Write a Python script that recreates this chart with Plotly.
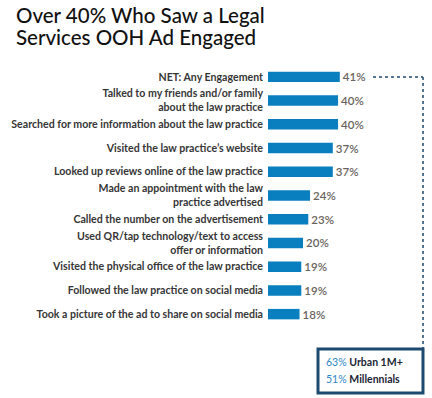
import plotly.graph_objects as go

categories = [
    "NET: Any Engagement",
    "Talked to my friends and/or family<br>about the law practice",
    "Searched for more information about the law practice",
    "Visited the law practice’s website",
    "Looked up reviews online of the law practice",
    "Made an appointment with the law<br>practice advertised",
    "Called the number on the advertisement",
    "Used QR/tap technology/text to access<br>offer or information",
    "Visited the physical office of the law practice",
    "Followed the law practice on social media",
    "Took a picture of the ad to share on social media",
]
values = [41, 40, 40, 37, 37, 24, 23, 20, 19, 19, 18]
value_labels = [f"{v}%" for v in values]
title_lines = ["Over 40% Who Saw a Legal", "Services OOH Ad Engaged"]
callout_pcts = ["63%", "51%"]
callout_texts = ["Urban 1M+", "Millennials"]

W, H = 432, 398
L, T = 268, 65
pw, ph = 155, 261
R, B = W - L - pw, H - T - ph

def px(x):  # screen x -> paper
    return (x - L) / pw

def py(y):  # screen y -> paper
    return (T + ph - y) / ph

BAR = "#0a7fbf"
NAVY = "#1d4a70"

fig = go.Figure(go.Bar(
    x=values, y=categories, orientation="h",
    marker=dict(color=BAR, line=dict(width=0)),
    text=value_labels, textposition="outside", cliponaxis=False,
    constraintext="none",
    textfont=dict(family="Lato", size=11.5, color="#6a6460", weight=600),
    width=0.44,
))

fig.update_layout(
    width=W, height=H,
    margin=dict(l=L, r=R, t=T, b=B, autoexpand=False),
    paper_bgcolor="white", plot_bgcolor="white",
    showlegend=False,
    xaxis=dict(range=[0, 88.5], visible=False, fixedrange=True),
    yaxis=dict(
        autorange=False, range=[len(categories) - 0.5, -0.5],
        tickfont=dict(family="Lato", size=10.6, color="#363636", weight="bold"),
        ticks="", showline=False, showgrid=False, zeroline=False,
        ticklabelstandoff=4,
    ),
)

for i, line in enumerate(title_lines):
    fig.add_annotation(
        xref="paper", yref="paper", x=px(14), y=py(15 + 22 * i),
        xanchor="left", yanchor="middle", showarrow=False, text=line,
        font=dict(family="Lato", size=20.5, color="#111111", weight=500),
    )

# dotted connector from NET bar to callout box
y_net = py(77)
fig.add_shape(type="line", xref="paper", yref="paper",
              x0=px(373), x1=px(423), y0=y_net, y1=y_net,
              line=dict(color=NAVY, width=1.5, dash="dot"))
fig.add_shape(type="line", xref="paper", yref="paper",
              x0=px(423), x1=px(423), y0=y_net, y1=py(349),
              line=dict(color=NAVY, width=1.5, dash="dot"))
# callout box
fig.add_shape(type="rect", xref="paper", yref="paper",
              x0=px(318), x1=px(423), y0=py(349), y1=py(393),
              line=dict(color=NAVY, width=3), fillcolor="white")

for i, (p, t) in enumerate(zip(callout_pcts, callout_texts)):
    fig.add_annotation(
        xref="paper", yref="paper", x=px(324), y=py(362 + 17 * i),
        xanchor="left", yanchor="middle", showarrow=False,
        text=f"<span style='color:#2f86c4'>{p}</span> <b>{t}</b>",
        font=dict(family="Lato", size=10.5, color="#1a2533"),
    )

fig.write_html("out.html", config={"displayModeBar": False},
               post_script="document.body.style.margin='0px';")
